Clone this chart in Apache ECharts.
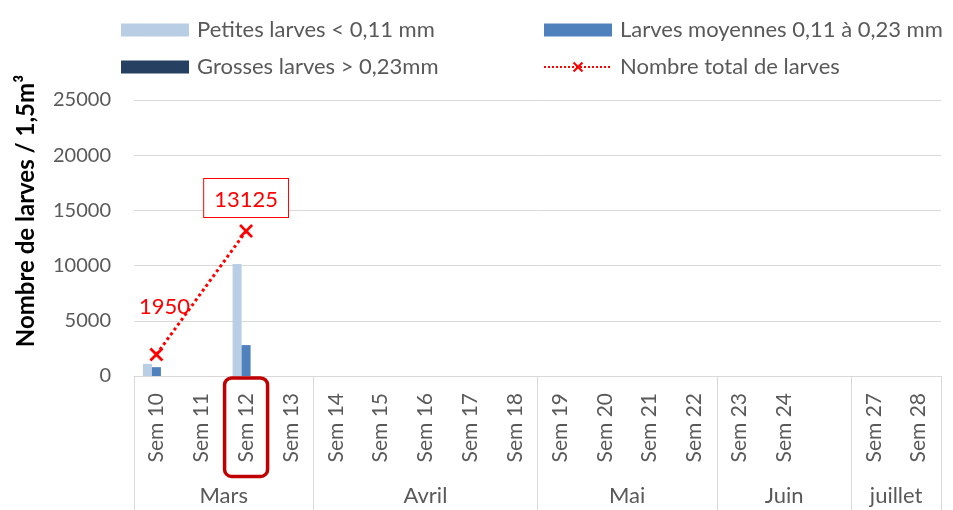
<!DOCTYPE html>
<html>
<head>
    <meta charset="utf-8">
    <title>Nombre de larves</title>
    <script src="https://cdn.jsdelivr.net/npm/echarts@6/dist/echarts.min.js"></script>
    <style>
        html, body { margin: 0; padding: 0; background: #fff; }
        #chart1 { width: 953px; height: 510px; }
    </style>
</head>
<body>
<div id="chart1"></div>
<script type="text/javascript">
    // données
    var semaines = ['Sem 10', 'Sem 11', 'Sem 12', 'Sem 13', 'Sem 14', 'Sem 15', 'Sem 16', 'Sem 17', 'Sem 18',
        'Sem 19', 'Sem 20', 'Sem 21', 'Sem 22', 'Sem 23', 'Sem 24', '', 'Sem 27', 'Sem 28'];
    var mois = ['Mars', 'Avril', 'Mai', 'Juin', 'juillet'];
    var semainesParMois = [4, 5, 4, 3, 2];
    var petites = [1100, null, 10150, null, null, null, null, null, null, null, null, null, null, null, null, null, null, null];
    var moyennes = [800, null, 2800, null, null, null, null, null, null, null, null, null, null, null, null, null, null, null];
    var grosses = [0, null, 0, null, null, null, null, null, null, null, null, null, null, null, null, null, null, null];
    var total = [1950, null, 13125, null, null, null, null, null, null, null, null, null, null, null, null, null, null, null];
    var semaineEncadree = 'Sem 12';

    var police = 'Lato';
    var gris = '#595959';

    // limites et milieux des mois sur l'axe
    var limites = [0];
    semainesParMois.forEach(function (n) { limites.push(limites[limites.length - 1] + n); });
    var milieux = mois.map(function (m, i) { return (limites[i] + limites[i + 1]) / 2; });

    // étiquette encadrée pour le maximum
    var iMax = 0;
    total.forEach(function (v, i) { if (v != null && v > total[iMax]) iMax = i; });
    var totalData = total.map(function (v, i) {
        if (i !== iMax) return v;
        return {
            value: v,
            label: {
                offset: [0, 0],
                distance: 7,
                backgroundColor: '#fff',
                borderColor: '#FF0000',
                borderWidth: 1,
                padding: [10, 10, 6, 10]
            }
        };
    });

    var croix = 'path://M0,1.4L1.4,0L5,3.6L8.6,0L10,1.4L6.4,5L10,8.6L8.6,10L5,6.4L1.4,10L0,8.6L3.6,5Z';
    var legendeTexte = { fontFamily: police, fontSize: 22, color: gris, padding: [0, 0, 0, 3] };

    var myChart1 = echarts.init(document.getElementById('chart1'));
    myChart1.setOption({
        animation: false,
        textStyle: { fontFamily: police },
        grid: { left: 134, right: 12, top: 100, bottom: 134 },
        legend: [
            {
                left: 121, top: 19, padding: 0, orient: 'vertical', itemGap: 15,
                itemWidth: 68, itemHeight: 13, icon: 'rect',
                textStyle: legendeTexte,
                data: ['Petites larves < 0,11 mm', 'Grosses larves > 0,23mm']
            },
            {
                left: 543, top: 19, padding: 0, orient: 'vertical', itemGap: 15,
                itemWidth: 68, itemHeight: 13,
                textStyle: legendeTexte,
                data: [{ name: 'Larves moyennes 0,11 à 0,23 mm', icon: 'rect' }, 'Nombre total de larves']
            }
        ],
        xAxis: [
            {
                type: 'category',
                data: semaines,
                axisLine: { lineStyle: { color: '#d9d9d9' } },
                axisTick: { length: 89, lineStyle: { color: '#d9d9d9' } },
                axisLabel: {
                    interval: 0,
                    rotate: 90,
                    margin: 2,
                    hideOverlap: false,
                    formatter: function (v) {
                        return v === semaineEncadree ? '{h|' + v + '}' : '{n|' + v + '}';
                    },
                    rich: {
                        n: { fontFamily: police, fontSize: 21, color: gris, padding: [11, 15, 11, 14] },
                        h: {
                            fontFamily: police, fontSize: 21, color: gris, padding: [11, 15, 11, 14],
                            borderColor: '#C00000', borderWidth: 3.5, borderRadius: 7
                        }
                    }
                }
            },
            {
                type: 'value',
                position: 'bottom',
                min: 0,
                max: semaines.length,
                axisLine: { show: false },
                splitLine: { show: false },
                axisTick: {
                    customValues: limites,
                    length: 140,
                    lineStyle: { color: '#d9d9d9' }
                },
                axisLabel: {
                    customValues: milieux,
                    margin: 109,
                    fontFamily: police,
                    fontSize: 22,
                    color: gris,
                    formatter: function (v) {
                        var i = milieux.indexOf(v);
                        return i >= 0 ? mois[i] : '';
                    }
                }
            }
        ],
        yAxis: {
            type: 'value',
            min: 0,
            max: 25000,
            interval: 5000,
            name: 'Nombre de larves / 1,5m³',
            nameLocation: 'middle',
            nameGap: 96,
            nameTextStyle: {
                fontFamily: police, fontSize: 24, fontWeight: 'bold', color: '#000',
                padding: [0, 0, 0, 54]
            },
            axisLine: { show: false },
            axisTick: { show: false },
            splitLine: { lineStyle: { color: '#d9d9d9' } },
            axisLabel: {
                margin: 23, fontFamily: police, fontSize: 20, color: gris,
                formatter: function (v) { return String(v); }
            }
        },
        series: [
            {
                name: 'Petites larves < 0,11 mm', type: 'bar', xAxisIndex: 0,
                barWidth: 9, barGap: '0%',
                itemStyle: { color: '#B9CDE5' },
                data: petites
            },
            {
                name: 'Larves moyennes 0,11 à 0,23 mm', type: 'bar', xAxisIndex: 0,
                barWidth: 9, barGap: '0%',
                itemStyle: { color: '#4F81BD' },
                data: moyennes
            },
            {
                name: 'Grosses larves > 0,23mm', type: 'bar', xAxisIndex: 0,
                barWidth: 9, barGap: '0%',
                itemStyle: { color: '#254061' },
                data: grosses
            },
            {
                name: 'Nombre total de larves', type: 'line', xAxisIndex: 0,
                connectNulls: true,
                symbol: croix,
                symbolSize: 14,
                itemStyle: { color: '#FF0000' },
                lineStyle: { color: '#FF0000', type: 'dotted', width: 3 },
                label: {
                    show: true,
                    position: 'top',
                    distance: 5,
                    offset: [8, -25],
                    fontFamily: police,
                    fontSize: 22,
                    color: '#FF0000'
                },
                data: totalData
            }
        ]
    });
</script>
</body>
</html>
